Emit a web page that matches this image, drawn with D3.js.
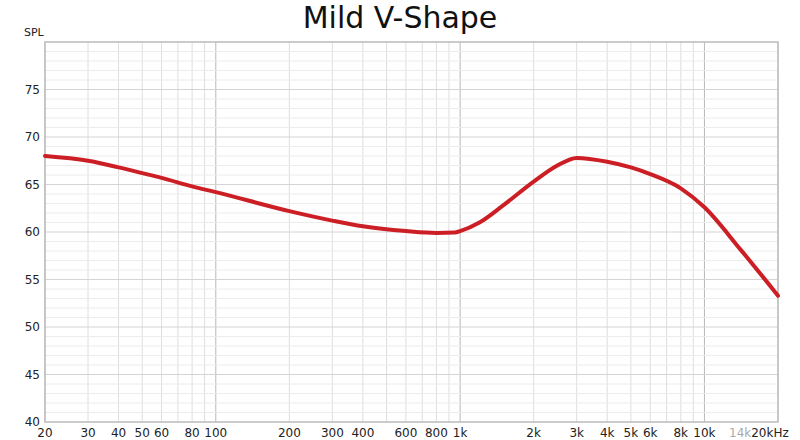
<!DOCTYPE html>
<html><head><meta charset="utf-8">
<script src="https://cdn.jsdelivr.net/npm/d3@7"></script>
<style>body{margin:0;background:#fff}text{font-family:"DejaVu Sans",sans-serif}</style>
</head><body><svg id="chart" width="800" height="440"></svg>
<script>
const freqs = [20, 30, 40, 50, 60, 80, 100, 200, 300, 400, 600, 800, 950, 1000, 1200, 1500, 2000, 2500, 3000, 4000, 5000, 6000, 8000, 10000, 14000, 20000];
const spl = [68, 67.5, 66.8, 66.2, 65.7, 64.8, 64.2, 62.2, 61.2, 60.6, 60.1, 59.9, 59.95, 60.1, 61, 62.8, 65.3, 67, 67.8, 67.4, 66.8, 66.1, 64.6, 62.6, 58.2, 53.3];
const xTicks = [20, 30, 40, 50, 60, 80, 100, 200, 300, 400, 600, 800, 1000, 2000, 3000, 4000, 5000, 6000, 8000, 10000, 14000, 20000];
const xLabels = ['20', '30', '40', '50', '60', '80', '100', '200', '300', '400', '600', '800', '1k', '2k', '3k', '4k', '5k', '6k', '8k', '10k', '14k', '20kHz'];
const yTicks = [40, 45, 50, 55, 60, 65, 70, 75];

const svg = d3.select('#chart');
const pLeft = 45, pRight = 778, pTop = 42, pBottom = 422;
const x = d3.scaleLog().domain([20, 20000]).range([pLeft, pRight]);
const y = d3.scaleLinear().domain([40, 80]).range([pBottom, pTop]);

// vertical grid
const vGrid = [];
[10, 100, 1000, 10000].forEach(d => { for (let k = 1; k <= 9; k++) { const f = d * k; if (f >= 20 && f <= 20000) vGrid.push(f); } });
svg.selectAll('.vg').data(vGrid).join('line')
  .attr('x1', d => x(d)).attr('x2', d => x(d)).attr('y1', pTop).attr('y2', pBottom)
  .attr('stroke', d => [100, 1000, 10000].includes(d) ? '#b8b8b8' : '#dedede').attr('stroke-width', 1);
// horizontal grid
svg.selectAll('.hg').data(d3.range(41, 80)).join('line')
  .attr('x1', pLeft).attr('x2', pRight).attr('y1', d => y(d)).attr('y2', d => y(d))
  .attr('stroke', d => d % 5 === 0 ? '#d4d4d4' : '#ececec').attr('stroke-width', 1);
svg.append('rect').attr('x', pLeft).attr('y', pTop).attr('width', pRight - pLeft).attr('height', pBottom - pTop)
  .attr('fill', 'none').attr('stroke', '#bbb').attr('stroke-width', 1.5);

// axis labels
svg.selectAll('.xl').data(xTicks).join('text')
  .attr('x', (d, i) => i === xTicks.length - 1 ? x(d) - 8 : x(d)).attr('y', 437).attr('text-anchor', 'middle')
  .attr('font-size', 12).attr('fill', d => d === 14000 ? '#aaa' : '#222')
  .text((d, i) => xLabels[i]);
svg.selectAll('.yl').data(yTicks).join('text')
  .attr('x', 40).attr('y', d => y(d) + 4).attr('text-anchor', 'end')
  .attr('font-size', 12).attr('fill', '#222').text(d => d);
svg.append('text').attr('x', 24).attr('y', 36).attr('font-size', 11).attr('fill', '#222').text('SPL');
svg.append('text').attr('x', 400).attr('y', 28).attr('text-anchor', 'middle')
  .attr('font-size', 30).attr('fill', '#111').text('Mild V-Shape');

// curve
const line = d3.line().x((d, i) => x(freqs[i])).y(d => y(d)).curve(d3.curveMonotoneX);
svg.append('path').datum(spl).attr('d', line).attr('fill', 'none')
  .attr('stroke', '#cc1f25').attr('stroke-width', 4).attr('stroke-linecap', 'round');
</script></body></html>
